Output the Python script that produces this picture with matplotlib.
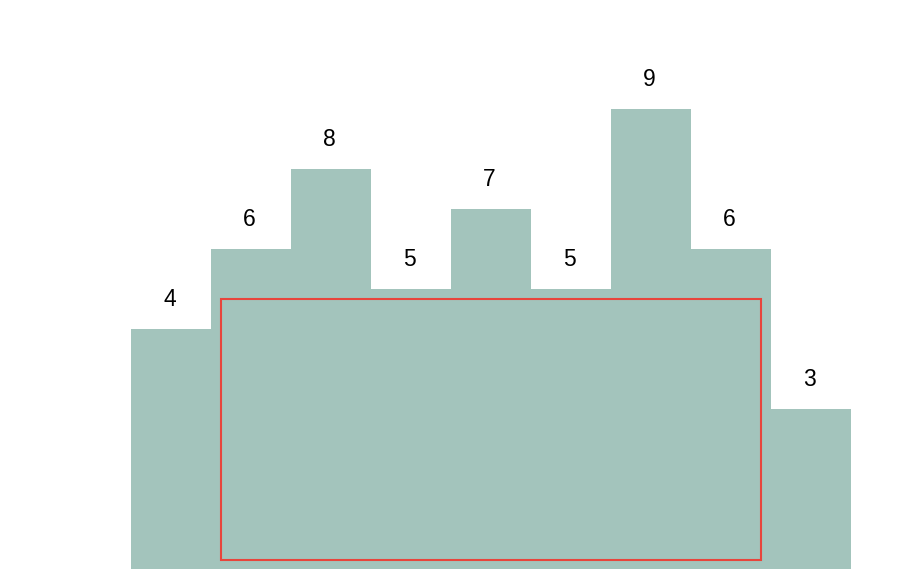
import numpy as np
import matplotlib
matplotlib.use('Agg')
import matplotlib.pyplot as plt
from matplotlib.patches import Rectangle

# values printed above each bar
labels = [4, 6, 8, 5, 7, 5, 9, 6, 3]
# drawn bar heights (not proportional to the labels)
bar_heights = [6, 8, 10, 7, 9, 7, 11.5, 8, 4]
# largest rectangle found in the histogram (first bar, last bar)
rect_start = 1
rect_end = 7

bar_color = '#a3c4bc'
rect_color = '#e8453c'

fig = plt.figure(figsize=(9.06, 5.84), dpi=100)
# axes bottom sits at the bars' baseline, full width
ax = fig.add_axes([0, 15 / 584, 1, 569 / 584])
x = np.arange(len(labels))
ax.bar(x, bar_heights, width=1.0, color=bar_color, linewidth=0)

for xi, h, v in zip(x, bar_heights, labels):
    ax.text(xi - 0.02, h + 0.73, str(v), ha='center', va='center',
            fontsize=16.5, family=['Liberation Sans', 'DejaVu Sans'], color='black')

# red outline, inset a little from the bars
rect_top = min(bar_heights[rect_start:rect_end + 1])
ax.add_patch(Rectangle((rect_start - 0.5 + 0.125, 0.225),
                       (rect_end - rect_start + 1) - 0.25,
                       rect_top - 0.25 - 0.225,
                       fill=False, edgecolor=rect_color, linewidth=1.5))

ax.set_xlim(-2.1375, 9.1875)
ax.set_ylim(0, 569 / 40)
ax.axis('off')

fig.savefig('out.png', dpi=100)
